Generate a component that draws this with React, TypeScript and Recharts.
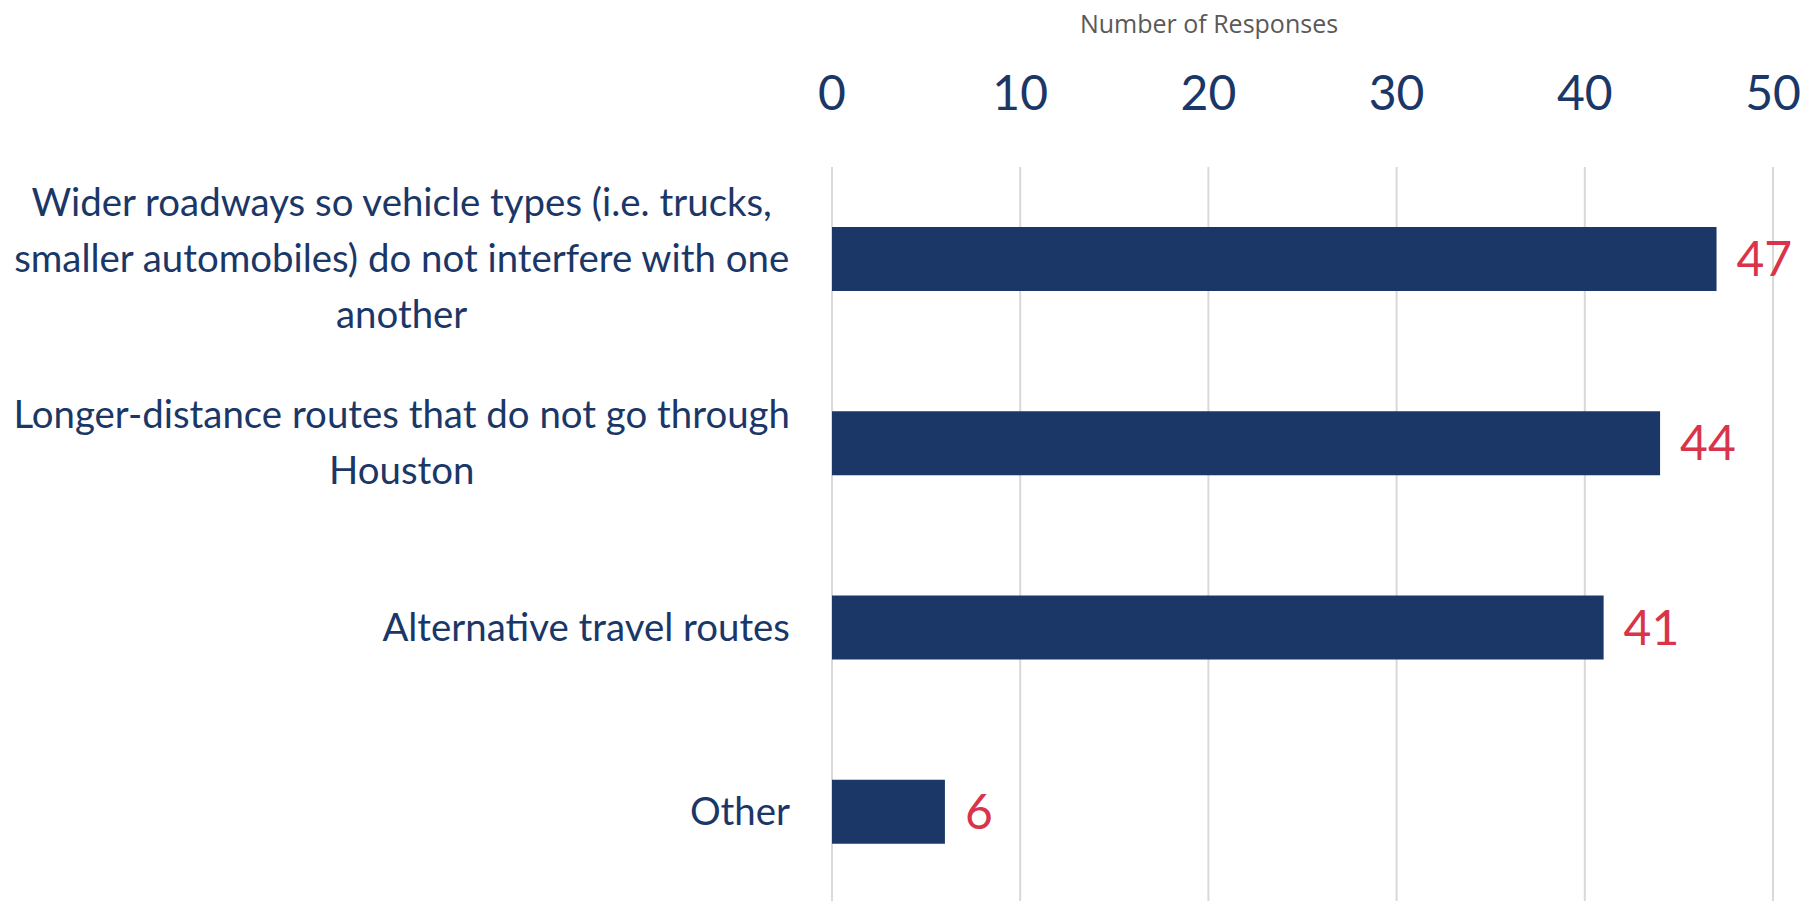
import React from 'react';
import { BarChart, Bar, XAxis, YAxis, CartesianGrid, LabelList } from 'recharts';

const categories = [
  'Wider roadways so vehicle types (i.e. trucks,\nsmaller automobiles) do not interfere with one\nanother',
  'Longer-distance routes that do not go through\nHouston',
  'Alternative travel routes',
  'Other',
];
const responses = [47, 44, 41, 6];
const xTicks = [0, 10, 20, 30, 40, 50];

const NAVY = '#1b3767';
const RED = '#d9344a';
const LABEL_FONT = 'Lato, "Noto Sans", sans-serif';
const LABEL_SIZE = 38.4;

const data = categories.map((name, i) => ({ name, value: responses[i] }));

let ctx: CanvasRenderingContext2D | null = null;
const textWidth = (s: string) => {
  if (!ctx) ctx = document.createElement('canvas').getContext('2d');
  if (!ctx) return s.length * LABEL_SIZE * 0.5;
  ctx.font = `${LABEL_SIZE}px ${LABEL_FONT}`;
  return ctx.measureText(s).width;
};

// multi-line label: lines centred on each other, block right-aligned to the axis
const CategoryTick = (props: any) => {
  const { x, y, payload } = props;
  const lines: string[] = String(payload.value).split('\n');
  const block = Math.max(...lines.map(textWidth));
  const cx = x - 34 - block / 2;
  const lineH = 56;
  const top = y - ((lines.length - 1) * lineH) / 2;
  return (
    <g>
      {lines.map((l, i) => (
        <text
          key={i}
          x={cx}
          y={top + i * lineH}
          dy={13}
          textAnchor="middle"
          fill={NAVY}
          fontSize={LABEL_SIZE}
          fontFamily={LABEL_FONT}
        >
          {l}
        </text>
      ))}
    </g>
  );
};

const ValueTick = (props: any) => {
  const { x, payload } = props;
  return (
    <text x={x} y={110} textAnchor="middle" fill={NAVY} fontSize={48} fontFamily={LABEL_FONT}>
      {payload.value}
    </text>
  );
};

const App: React.FC = () => {
  return (
    <div style={{ position: 'absolute', left: 0, top: 0, width: 1818, height: 901, background: '#fff' }}>
      <BarChart
        width={1818}
        height={910}
        data={data}
        layout="vertical"
        margin={{ top: 0, right: 45, bottom: 6, left: 0 }}
        barSize={64}
      >
        <CartesianGrid horizontal={false} stroke="#d9d9d9" strokeWidth={2} />
        <XAxis
          type="number"
          orientation="top"
          domain={[0, 50]}
          ticks={xTicks}
          height={167}
          axisLine={false}
          tickLine={false}
          tick={<ValueTick />}
          label={{
            content: () => (
              <text x={1209} y={33} textAnchor="middle" fill="#595959" fontSize={25} fontFamily='"Open Sans", sans-serif'>
                Number of Responses
              </text>
            ),
          }}
        />
        <YAxis
          type="category"
          dataKey="name"
          width={832}
          axisLine={false}
          tickLine={false}
          tick={<CategoryTick />}
          interval={0}
        />
        <Bar dataKey="value" fill={NAVY} isAnimationActive={false}>
          <LabelList
            dataKey="value"
            position="right"
            offset={20}
            fill={RED}
            fontSize={48}
            fontFamily={LABEL_FONT}
          />
        </Bar>
      </BarChart>
    </div>
  );
};

export default App;
